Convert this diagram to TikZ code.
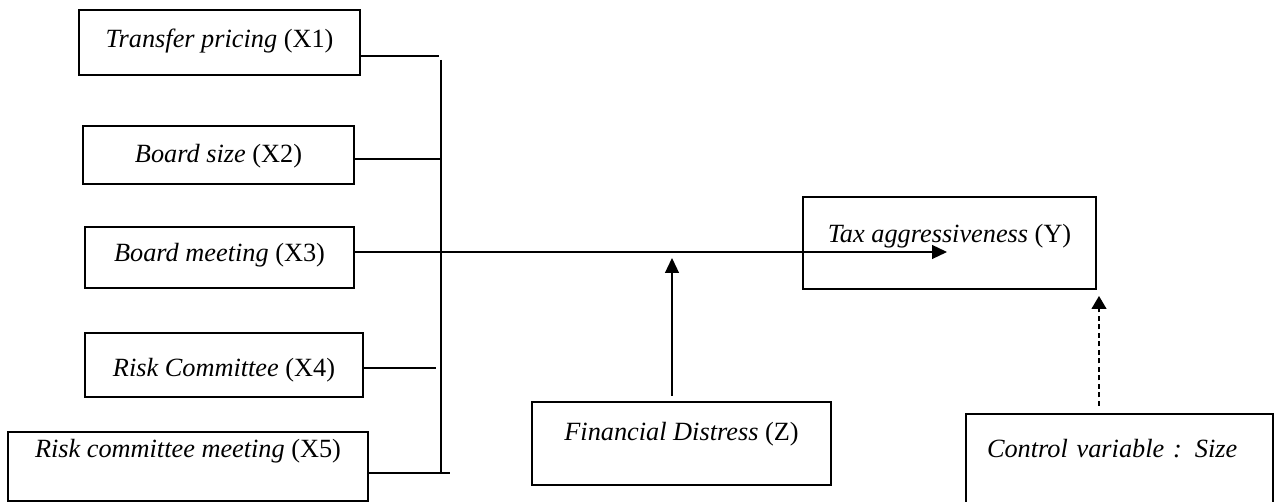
\documentclass[tikz,border=0pt]{standalone}
\usepackage{fontspec}
\setmainfont{Liberation Serif}
\usetikzlibrary{arrows.meta,calc}
\begin{document}
\begin{tikzpicture}[x=1pt,y=-1pt,
  box/.style={draw,line width=2.2pt,rectangle,inner sep=0pt,font=\fontsize{26.3}{30}\selectfont},
  conn/.style={line width=1.2pt},
  arr/.style={conn,-{Triangle[length=15pt,width=14pt]}},
  darr/.style={conn,dash pattern=on 5pt off 3.5pt,-{Triangle[length=13pt,width=15pt]}}]
\useasboundingbox (0,0) rectangle (1278,502);
% boxes
\node[box,minimum width=281pt,minimum height=65pt,text height=20pt,text depth=9pt] (x1) at (219.5,42.5) {\textit{Transfer pricing} (X1)};
\node[box,minimum width=271pt,minimum height=58pt,text height=21pt,text depth=6.4pt] (x2) at (218.5,155) {\textit{Board size} (X2)};
\node[box,minimum width=269pt,minimum height=61pt,text height=19pt,text depth=10.6pt] (x3) at (219.5,257.5) {\textit{Board meeting} (X3)};
\node[box,minimum width=278pt,minimum height=64pt,text height=26pt,text depth=2.6pt] (x4) at (224,365) {\textit{Risk Committee} (X4)};
\node[box,minimum width=360pt,minimum height=69pt,text height=10pt,text depth=27.6pt] (x5) at (188,466.5) {\textit{Risk committee meeting} (X5)};
\node[box,minimum width=299pt,minimum height=83pt,text height=18pt,text depth=23pt] (z) at (681.5,443.5) {\textit{Financial Distress} (Z)};
\node[box,minimum width=293pt,minimum height=92pt,text height=18pt,text depth=18pt] (y) at (949.5,243) {\textit{Tax aggressiveness} (Y)};
\node[box,minimum width=307pt,minimum height=90pt,inner xsep=21pt,text width=265pt,align=left,text height=20pt,text depth=22pt] (ctl) at (1119.5,459) {\textit{Control variable : Size}};
% bus
\coordinate (bt) at (441,60);
\coordinate (bb) at (441,473);
\draw[conn] (bt) -- (bb);
\coordinate (b1) at (439,56);
\coordinate (b2) at (441,159);
\coordinate (b4) at (436,368);
\coordinate (b5) at (450,473);
\draw[conn] (x1.east |- b1) -- (b1);
\draw[conn] (x2.east |- b2) -- (b2);
\draw[conn] (x4.east |- b4) -- (b4);
\draw[conn] (x5.east |- b5) -- (b5);
% main arrow
\coordinate (yt) at (947,252);
\draw[arr] (x3.east |- yt) -- (yt);
% moderator arrow
\coordinate (zt) at (672,258);
\draw[arr] ($(z.north -| zt)+(0,-5)$) -- (zt);
% control arrow
\coordinate (ct) at (1099,296);
\draw[darr] ($(ctl.north -| ct)+(0,-7)$) -- (ct);
\end{tikzpicture}
\end{document}
